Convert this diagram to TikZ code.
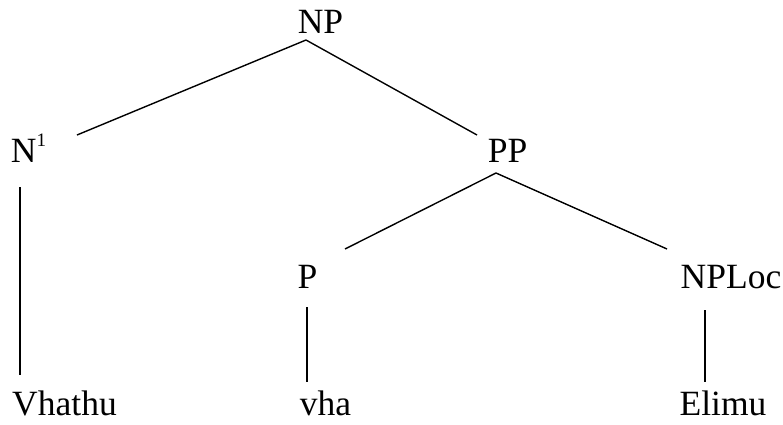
\documentclass[tikz,border=0pt]{standalone}
\usepackage{fontspec}
\setmainfont{Liberation Serif}
\usetikzlibrary{calc}

\begin{document}
\begin{tikzpicture}
        [x=1pt,y=-1pt,
        TreeNode/.style={anchor=base, inner sep=0pt, font=\fontsize{35.5}{40}\selectfont},
        Branch/.style={line width=1.4pt}]

        % picture size
        \useasboundingbox (0,0) rectangle (783,424);

        % category labels
        \node[TreeNode] (np) at (320.5,33) {NP};
        \node[TreeNode] (n1) at (28.5,162) {N\raisebox{16pt}{\fontsize{19}{19}\selectfont 1}};
        \node[TreeNode] (pp) at (507.5,162) {PP};
        \node[TreeNode] (p) at (307.5,288) {P};
        \node[TreeNode] (nploc) at (731,288) {NPLoc};

        % words
        \node[TreeNode] (vhathu) at (64.5,415) {Vhathu};
        \node[TreeNode] (vha) at (325.5,415) {vha};
        \node[TreeNode] (elimu) at (723,415) {Elimu};

        % NP to its daughters
        \draw[Branch]($(np.base)+(-14.5,7)$)--($(n1.base)+(48.5,-27)$);
        \draw[Branch]($(np.base)+(-14.5,7)$)--($(pp.base)+(-30.5,-27)$);

        % PP to its daughters
        \draw[Branch]($(pp.base)+(-11.5,11)$)--($(p.base)+(37.5,-39)$);
        \draw[Branch]($(pp.base)+(-11.5,11)$)--($(nploc.base)+(-64,-39)$);

        % lexical branches
        \draw[Branch]($(n1.base)+(-8.5,25)$)--($(vhathu.base)+(-44.5,-40)$);
        \draw[Branch]($(p.base)+(-0.5,19)$)--($(vha.base)+(-18.5,-33)$);
        \draw[Branch]($(nploc.base)+(-26,22)$)--($(elimu.base)+(-18,-33)$);
    \end{tikzpicture}
\end{document}
